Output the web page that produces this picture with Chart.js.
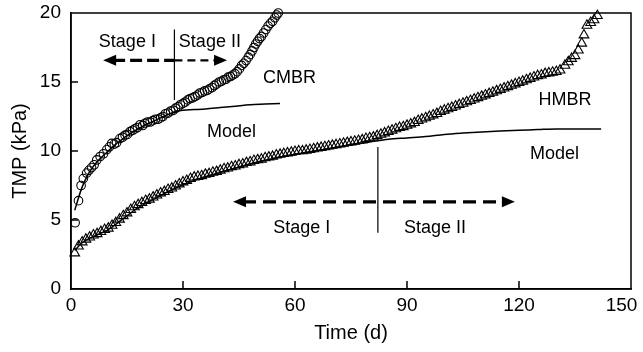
<!DOCTYPE html>
<html>
<head>
<meta charset="utf-8">
<script src="https://cdn.jsdelivr.net/npm/chart.js@4.4.1/dist/chart.umd.min.js"></script>
<style>
html,body{margin:0;padding:0;background:#fff;}
#wrap{width:643px;height:352px;}
</style>
</head>
<body>
<div id="wrap"><canvas id="c" width="643" height="352"></canvas></div>
<script>
// ---------- DATA ----------
const xTicks = [0, 30, 60, 90, 120, 150];
const yTicks = [0, 5, 10, 15, 20];

const cmbrDays = [1.1,2.0,2.7,3.3,4.2,4.8,5.5,6.2,6.9,7.8,8.7,9.6,10.3,10.9,11.6,12.2,13.1,13.8,14.5,15.1,15.8,16.5,17.1,17.8,18.5,19.2,19.8,20.5,21.2,21.9,22.6,23.3,24.0,24.6,25.3,26.0,26.7,27.4,28.0,28.7,29.3,30.0,30.6,31.3,31.9,32.6,33.2,33.9,34.5,35.2,35.8,36.5,37.1,37.8,38.4,39.0,39.7,40.3,40.9,41.5,42.1,42.7,43.3,43.9,44.5,45.1,45.7,46.3,46.9,47.5,48.0,48.5,49.0,49.5,50.0,50.5,51.0,51.6,52.2,52.8,53.4,54.0,54.6,55.1,55.5];
const cmbrTMP = [4.8,6.4,7.5,8.0,8.4,8.6,8.8,9.0,9.35,9.6,9.8,10.1,10.3,10.55,10.5,10.6,10.9,11.0,11.15,11.2,11.4,11.5,11.6,11.7,11.9,11.85,12.0,12.1,12.1,12.2,12.3,12.3,12.4,12.5,12.7,12.75,12.9,12.95,13.1,13.2,13.35,13.45,13.55,13.7,13.8,13.85,13.95,14.05,14.2,14.25,14.35,14.4,14.5,14.6,14.75,14.85,15.0,15.05,15.15,15.2,15.35,15.4,15.5,15.6,15.75,15.95,16.2,16.35,16.55,16.8,17.0,17.25,17.5,17.75,17.95,18.15,18.3,18.55,18.8,19.05,19.25,19.4,19.65,19.85,20.0];

const cmbrModelDays = [1,2,3,4,5,6,8,10,12,14,16,18,20,22,24,26,28,30,33,36,40,44,48,52,56];
const cmbrModelTMP = [5.7,6.6,7.4,8.0,8.5,8.9,9.5,10.0,10.5,10.9,11.3,11.6,11.9,12.15,12.4,12.65,12.85,12.95,13.0,13.05,13.15,13.25,13.35,13.4,13.45];

const hmbrDays = [1,2,3,4,5,6,7,8,9,10,11,12,13,14,15,16,17,18,19,20,21,22,23,24,25,26,27,28,29,30,31,32,33,34,35,36,37,38,39,40,41,42,43,44,45,46,47,48,49,50,51,52,53,54,55,56,57,58,59,60,61,62,63,64,65,66,67,68,69,70,71,72,73,74,75,76,77,78,79,80,81,82,83,84,85,86,87,88,89,90,91,92,93,94,95,96,97,98,99,100,101,102,103,104,105,106,107,108,109,110,111,112,113,114,115,116,117,118,119,120,121,122,123,124,125,126,127,128,129,130,131,132.3,133.2,134.1,135.0,135.9,136.8,137.4,138.2,139.2,140.1,141.0];
const hmbrTMP = [2.6,3.1,3.4,3.6,3.75,3.9,4.0,4.15,4.3,4.4,4.6,4.8,5.05,5.3,5.5,5.75,5.95,6.1,6.25,6.4,6.5,6.65,6.8,6.95,7.05,7.2,7.3,7.45,7.6,7.75,7.85,8.0,8.1,8.15,8.2,8.3,8.35,8.45,8.5,8.6,8.7,8.75,8.85,8.9,9.0,9.05,9.15,9.2,9.3,9.35,9.4,9.5,9.55,9.6,9.7,9.75,9.8,9.85,9.9,9.95,10.0,10.0,10.05,10.1,10.15,10.2,10.25,10.3,10.35,10.4,10.45,10.5,10.55,10.6,10.65,10.7,10.75,10.8,10.9,10.95,11.0,11.1,11.2,11.3,11.4,11.5,11.6,11.7,11.75,11.85,11.95,12.05,12.2,12.3,12.4,12.5,12.6,12.7,12.85,12.95,13.05,13.15,13.25,13.35,13.45,13.55,13.65,13.75,13.85,13.95,14.05,14.15,14.25,14.35,14.45,14.55,14.65,14.75,14.85,14.95,15.05,15.15,15.25,15.35,15.45,15.5,15.6,15.65,15.7,15.75,15.85,16.2,16.45,16.7,16.9,17.3,17.8,18.4,19.1,19.3,19.5,19.8];

const hmbrModelDays = [1,3,6,10,14,18,22,26,30,35,40,45,50,55,60,65,70,75,80,85,90,95,100,105,110,115,120,125,130,135,142];
const hmbrModelTMP = [2.8,3.35,3.8,4.3,5.1,5.9,6.5,7.05,7.55,8.05,8.45,8.85,9.2,9.5,9.75,10.0,10.2,10.45,10.65,10.85,10.95,11.05,11.2,11.3,11.38,11.45,11.5,11.55,11.6,11.6,11.6];

// ---------- HELPERS ----------
const pts = (xs, ys) => xs.map((x, i) => ({x: x, y: ys[i]}));
const FONT = "'Liberation Sans', Arial, Helvetica, sans-serif";

// annotations in data coordinates
const notes = [
  {text: 'Stage I', x: 15.1, y: 17.87},
  {text: 'Stage II', x: 37.2, y: 17.87},
  {text: 'CMBR', x: 58.5, y: 15.27},
  {text: 'Model', x: 43.0, y: 11.37},
  {text: 'Stage I', x: 61.8, y: 4.44},
  {text: 'Stage II', x: 97.5, y: 4.44},
  {text: 'HMBR', x: 132.3, y: 13.68},
  {text: 'Model', x: 129.5, y: 9.78}
];

function arrowHead(ctx, x, y, dir) {
  ctx.beginPath();
  ctx.moveTo(x, y);
  ctx.lineTo(x - dir * 13, y - 5.5);
  ctx.lineTo(x - dir * 13, y + 5.5);
  ctx.closePath();
  ctx.fill();
}

const framePlugin = {
  id: 'frame',
  afterDatasetsDraw(chart) {
    const ctx = chart.ctx;
    const a = chart.chartArea;
    const xs = chart.scales.x, ys = chart.scales.y;
    ctx.save();
    ctx.strokeStyle = '#000';
    ctx.fillStyle = '#000';
    ctx.lineWidth = 1.5;
    ctx.strokeRect(a.left, a.top, a.right - a.left, a.bottom - a.top);
    // inward ticks
    ctx.beginPath();
    xTicks.forEach(v => {
      if (v === xs.min || v === xs.max) return;
      const px = xs.getPixelForValue(v);
      ctx.moveTo(px, a.bottom); ctx.lineTo(px, a.bottom - 8);
    });
    yTicks.forEach(v => {
      if (v === ys.min || v === ys.max) return;
      const py = ys.getPixelForValue(v);
      ctx.moveTo(a.left, py); ctx.lineTo(a.left + 7, py);
    });
    ctx.stroke();

    // stage divider lines
    ctx.lineWidth = 1.2;
    ctx.beginPath();
    ctx.moveTo(xs.getPixelForValue(27.7), ys.getPixelForValue(18.8));
    ctx.lineTo(xs.getPixelForValue(27.7), ys.getPixelForValue(13.7));
    ctx.moveTo(xs.getPixelForValue(82.2), ys.getPixelForValue(10.29));
    ctx.lineTo(xs.getPixelForValue(82.2), ys.getPixelForValue(4.08));
    ctx.stroke();

    // top arrow (CMBR)
    const ty = ys.getPixelForValue(16.57);
    const tl = xs.getPixelForValue(8.6), tm = xs.getPixelForValue(27.7), tr = xs.getPixelForValue(41.8);
    ctx.lineWidth = 3.2;
    ctx.setLineDash([12, 5]);
    ctx.beginPath(); ctx.moveTo(tl + 10, ty); ctx.lineTo(tm, ty); ctx.stroke();
    ctx.lineWidth = 2.4;
    ctx.setLineDash([8, 5]);
    ctx.beginPath(); ctx.moveTo(tm, ty); ctx.lineTo(tr - 10, ty); ctx.stroke();
    ctx.setLineDash([]);
    arrowHead(ctx, tl, ty, -1);
    arrowHead(ctx, tr, ty, 1);

    // bottom arrow (HMBR)
    const by = ys.getPixelForValue(6.32);
    const bl = xs.getPixelForValue(43.4), br = xs.getPixelForValue(118.9);
    ctx.lineWidth = 3.2;
    ctx.setLineDash([13, 7]);
    ctx.beginPath(); ctx.moveTo(bl + 10, by); ctx.lineTo(br - 10, by); ctx.stroke();
    ctx.setLineDash([]);
    arrowHead(ctx, bl, by, -1);
    arrowHead(ctx, br, by, 1);

    // labels
    ctx.font = '18px ' + FONT;
    ctx.textAlign = 'center';
    ctx.textBaseline = 'middle';
    notes.forEach(n => ctx.fillText(n.text, xs.getPixelForValue(n.x), ys.getPixelForValue(n.y)));
    ctx.restore();
  }
};

new Chart(document.getElementById('c'), {
  type: 'scatter',
  data: {
    datasets: [
      {label: 'CMBR', data: pts(cmbrDays, cmbrTMP), showLine: false, pointStyle: 'circle', pointRadius: 4.3,
       pointBorderColor: '#000', pointBackgroundColor: 'rgba(0,0,0,0)', pointBorderWidth: 1.1, clip: false},
      {label: 'CMBR model', data: pts(cmbrModelDays, cmbrModelTMP), showLine: true, pointRadius: 0,
       borderColor: '#000', borderWidth: 1.5, cubicInterpolationMode: 'monotone', clip: false},
      {label: 'HMBR', data: pts(hmbrDays, hmbrTMP), showLine: false, pointStyle: 'triangle', pointRadius: 5.6,
       pointBorderColor: '#000', pointBackgroundColor: 'rgba(0,0,0,0)', pointBorderWidth: 1.1, clip: false},
      {label: 'HMBR model', data: pts(hmbrModelDays, hmbrModelTMP), showLine: true, pointRadius: 0,
       borderColor: '#000', borderWidth: 1.5, cubicInterpolationMode: 'monotone', clip: false}
    ]
  },
  options: {
    responsive: false,
    animation: false,
    devicePixelRatio: 1,
    layout: {padding: {top: 13, right: 12, left: 0, bottom: 0}},
    plugins: {legend: {display: false}, tooltip: {enabled: false}},
    scales: {
      x: {
        type: 'linear', min: 0, max: 150,
        afterBuildTicks: s => { s.ticks = xTicks.map(v => ({value: v})); },
        afterFit: s => { s.height = 63; s.paddingLeft = 0; s.paddingRight = 0; },
        grid: {display: false, drawTicks: false},
        border: {display: true, color: '#000', width: 1.5},
        ticks: {color: '#000', font: {family: FONT, size: 19}, padding: 5, maxRotation: 0,
                callback: (v, i, arr) => (i === arr.length - 1 ? v + '\u2002\u2002' : String(v))},
        title: {display: true, text: 'Time (d)', color: '#000', font: {family: FONT, size: 20}, padding: {top: 0, bottom: 7}}
      },
      y: {
        type: 'linear', min: 0, max: 20,
        afterBuildTicks: s => { s.ticks = yTicks.map(v => ({value: v})); },
        afterFit: s => { s.width = 71; s.paddingTop = 0; s.paddingBottom = 0; },
        grid: {display: false, drawTicks: false},
        border: {display: true, color: '#000', width: 1.5},
        ticks: {color: '#000', font: {family: FONT, size: 19}, padding: 10},
        title: {display: true, text: 'TMP (kPa)', color: '#000', font: {family: FONT, size: 20}, padding: {top: 8, bottom: 0}}
      }
    }
  },
  plugins: [framePlugin]
});
</script>
</body>
</html>
